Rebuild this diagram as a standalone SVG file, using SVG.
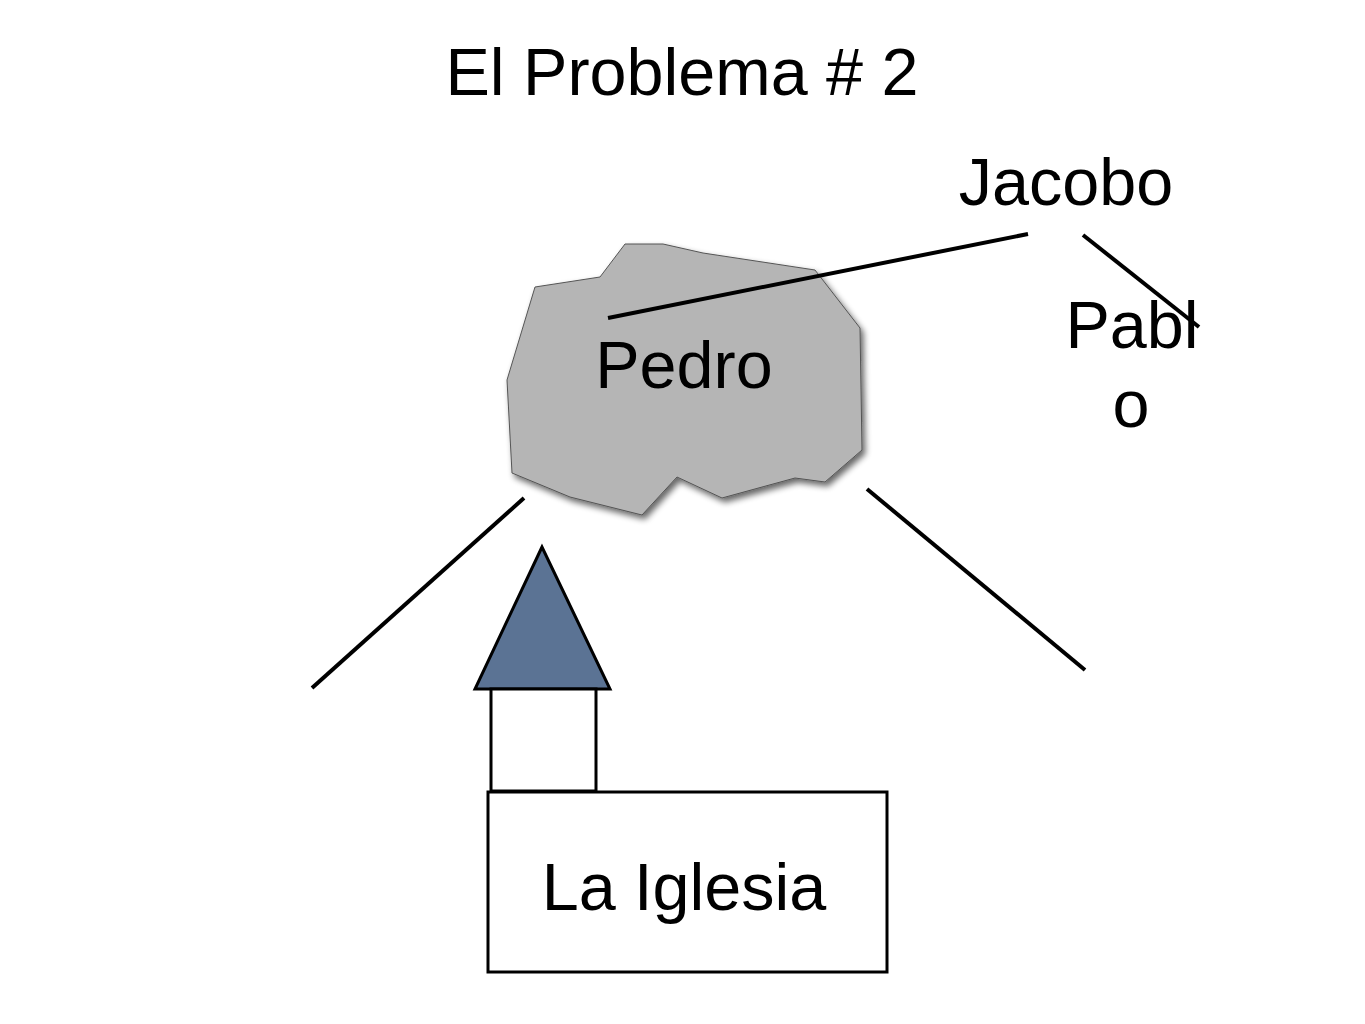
<svg xmlns="http://www.w3.org/2000/svg" width="1365" height="1024" viewBox="0 0 1365 1024">
  <defs>
    <filter id="shadow" x="-10%" y="-10%" width="130%" height="130%">
      <feGaussianBlur in="SourceAlpha" stdDeviation="3"/>
      <feOffset dx="3" dy="4" result="b"/>
      <feComponentTransfer><feFuncA type="linear" slope="0.6"/></feComponentTransfer>
      <feMerge><feMergeNode/><feMergeNode in="SourceGraphic"/></feMerge>
    </filter>
  </defs>
  <style>
    .t { font-family: "Liberation Sans", Arial, sans-serif; font-size: 66.5px; fill: #000; text-anchor: middle; }
    .ln { stroke: #000; stroke-width: 4; fill: none; }
    .sh { stroke: #000; stroke-width: 3; }
  </style>
  <rect width="1365" height="1024" fill="#fff"/>
  <g id="title">
    <text class="t" x="682" y="95">El Problema # 2</text>
  </g>
  <g id="pedro">
    <polygon points="625,244 663,244 703,253 815,270 860,328 862,450 825,482 795,478 722,498 677,477 642,515 570,497 512,473 507,380 535,287 600,277" fill="#b5b5b5" stroke="#555" stroke-width="1" filter="url(#shadow)"/>
    <text class="t" x="684" y="388">Pedro</text>
  </g>
  <g id="jacobo">
    <text class="t" x="1066" y="205">Jacobo</text>
  </g>
  <g id="pablo">
    <text class="t" x="1132" y="348">Pabl</text>
    <text class="t" x="1131" y="427">o</text>
  </g>
  <g id="iglesia">
    <polygon class="sh" points="542,547 475,689 610,689" fill="#5b7394"/>
    <rect class="sh" x="491" y="689" width="105" height="102" fill="#fff"/>
    <rect class="sh" x="488" y="792" width="399" height="180" fill="#fff"/>
    <text class="t" x="684" y="910">La Iglesia</text>
  </g>
  <g id="connectors">
    <line class="ln" x1="608" y1="318" x2="1028" y2="234"/>
    <line class="ln" x1="1083" y1="235" x2="1199" y2="327"/>
    <line class="ln" x1="524" y1="498" x2="312" y2="688"/>
    <line class="ln" x1="867" y1="489" x2="1085" y2="670"/>
  </g>
</svg>
